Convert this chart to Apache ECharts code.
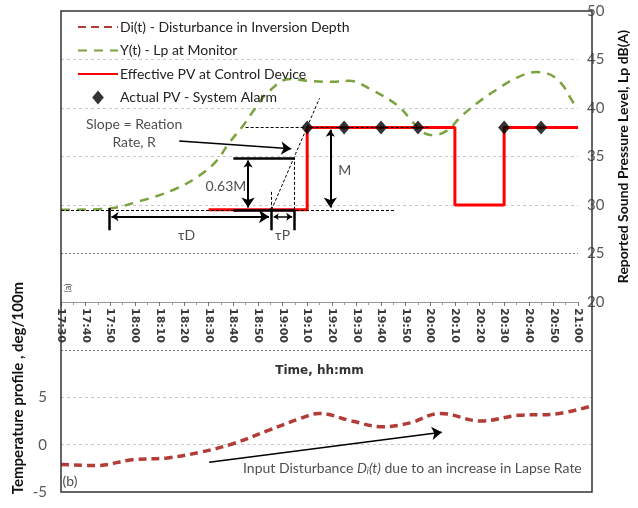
<!DOCTYPE html>
<html><head><meta charset="utf-8">
<script src="https://cdn.jsdelivr.net/npm/echarts@6/dist/echarts.min.js"></script>
<style>html,body{margin:0;padding:0;background:#fff}#c{width:638px;height:508px}</style>
</head><body><div id="c"></div>
<script>
// ---- axes (time in minutes since midnight) ----
const timeMin = 1050, timeMax = 1260, timeStep = 10;   // 17:30 .. 21:00
const lpMin = 20, lpMax = 50, lpStep = 5;
const tempMin = -5, tempMax = 10, tempStep = 5;

// ---- series ----
const disturbanceDi = [[1050,-2.1],[1064,-2.2],[1078,-1.6],[1092,-1.4],[1105,-0.8],[1118,0.1],[1132,1.5],[1145,2.8],[1152,3.3],[1165,2.5],[1177,1.9],[1188,2.3],[1200,3.3],[1216,2.5],[1231,3.1],[1244,3.2],[1260,4.1]];
const lpMonitorY = [[1050,29.5],[1068,29.6],[1082,30.4],[1096,31.6],[1106,33],[1113,34.5],[1118,36.3],[1124,38.2],[1129,40],[1134,41.6],[1143,43],[1150,42.8],[1160,42.7],[1167,42.8],[1176,41.9],[1187,40.2],[1192,38.8],[1197,37.5],[1201,37.2],[1207,37.7],[1212,39],[1219,40.5],[1227,41.9],[1235,43.1],[1243,43.7],[1247,43.6],[1253,42.6],[1258,40.6],[1260,40.1]];
const effectivePV = [[1110,29.5],[1150,29.5],[1150,38],[1210,38],[1210,30],[1230,30],[1230,38],[1260,38]];
const actualPV = [[1150,38],[1165,38],[1180,38],[1195,38],[1230,38],[1245,38]];

// ---- annotations (data coordinates) ----
const annDashed = [[[1125,38],[1200,38]],[[1050,29.5],[1185.5,29.5]],[[1135.5,29.5],[1155,41]],[[1135.5,29.5],[1135.5,31.4]],[[1144.7,29.5],[1144.7,34.85]]];
const annThick = [[[1120,34.85],[1144.7,34.85]],[[1120,29.5],[1144.7,29.5]],[[1069.4,29.7],[1069.4,27.4]],[[1135.6,29.7],[1135.6,27.4]],[[1144.7,29.5],[1144.7,27.4]]];
const annDoubleArrow = [[[1126,34.6],[1126,29.75]],[[1159.4,37.75],[1159.4,29.75]],[[1070.5,28.8],[1134.5,28.8]]];
const annSmallArrow = [[[1136.4,28.8],[1143.9,28.8]]];
const annArrowTop = [[[1098,36.6],[1143.5,35.8]]];
const annArrowBottom = [[[1108.6,-1.85],[1200.6,1.32]]];
const textsTop = [[1079.7,38.35,'Slope = Reation'],[1079.7,36.4,'Rate, R'],[1117,31.9,'0.63M'],[1165.3,33.6,'M'],[1101,26.9,'τD'],[1140,26.9,'τP']];
const textsBottom = [[1050.6,-3.85,'(b)'],[1122,-2.5,'{n|Input Disturbance }{it|D}{sub|i}{it|(t)}{n| due to an increase in Lapse Rate}']];

const FONT = 'Lato';
const fmtTime = v => { const h = Math.floor(v/60), m = v%60; return h + ':' + (m<10?'0':'') + m; };

const chart = echarts.init(document.getElementById('c'));
function linesSeries(data, gi, style, symbol, symbolSize){
  return {type:'lines', coordinateSystem:'cartesian2d', xAxisIndex:gi, yAxisIndex:gi, silent:true, z:6,
    symbol: symbol || ['none','none'], symbolSize: symbolSize || 8,
    lineStyle: Object.assign({color:'#000', opacity:1, curveness:0}, style),
    data: data.map(c => ({coords:c}))};
}
function textSeries(data, gi, align, extra){
  return {type:'scatter', xAxisIndex:gi, yAxisIndex:gi, silent:true, symbolSize:1, z:7,
    itemStyle:{color:'transparent'},
    label:Object.assign({show:true, position:'inside', align:align, verticalAlign:'middle', fontFamily:FONT, fontSize:14, color:'#222',
      formatter:p => p.data[2]}, extra||{}),
    data:data};
}
const noSym = {color:'rgba(0,0,0,0)', opacity:0, borderWidth:0};

chart.setOption({
  animation:false,
  textStyle:{fontFamily:FONT},
  grid:[{left:61, right:46, top:11, height:291},{left:61, right:46, top:350, height:142}],
  legend:{orient:'vertical', left:72, top:15, itemWidth:40, itemHeight:14, itemGap:9.5, symbolKeepAspect:true,
    data:[
      {name:'Di(t) - Disturbance in Inversion Depth', itemStyle:noSym},
      {name:'Y(t) - Lp at Monitor', itemStyle:noSym},
      {name:'Effective PV at Control Device', itemStyle:noSym},
      {name:'Actual PV - System Alarm', icon:'path://M5,0L10,6L5,12L0,6Z'}
    ],
    textStyle:{fontFamily:FONT, fontSize:14, color:'#222', padding:[0,0,0,-3]}},
  xAxis:[
    {type:'value', gridIndex:0, min:timeMin, max:timeMax, interval:timeStep,
     axisLine:{show:true, onZero:false, lineStyle:{color:'#999', width:1}},
     axisTick:{show:true, length:4, lineStyle:{color:'#777'}},
     minorTick:{show:true, splitNumber:2, length:3, lineStyle:{color:'#999'}},
     splitLine:{show:false},
     axisLabel:{rotate:-90, margin:6, fontFamily:'DejaVu Sans', fontWeight:'bold', fontSize:11, color:'#3a3a3a', formatter:fmtTime, showMinLabel:true, showMaxLabel:true},
     name:'Time, hh:mm', nameLocation:'middle', nameGap:63,
     nameTextStyle:{fontFamily:'DejaVu Sans', fontWeight:'bold', fontSize:12, color:'#333'}},
    {type:'value', gridIndex:1, min:timeMin, max:timeMax, interval:timeStep, show:false}
  ],
  yAxis:[
    {type:'value', gridIndex:0, position:'right', min:lpMin, max:lpMax, interval:lpStep,
     axisLine:{show:false}, axisTick:{show:false},
     axisLabel:{margin:9, fontFamily:FONT, fontSize:15, color:'#595959'},
     splitLine:{show:true, lineStyle:{type:[3,3], color:['transparent','transparent','#c8c8c8','#c8c8c8','#c8c8c8','#c8c8c8','transparent']}},
     name:'Reported Sound Pressure Level, Lp dB(A)', nameLocation:'middle', nameRotate:90, nameGap:38,
     nameTextStyle:{fontFamily:FONT, fontWeight:'bold', fontSize:14, color:'#111'}},
    {type:'value', gridIndex:1, position:'left', min:tempMin, max:tempMax, interval:tempStep,
     axisLine:{show:false}, axisTick:{show:false},
     axisLabel:{margin:14, fontFamily:FONT, fontSize:15, color:'#595959', formatter:v => v===10 ? '' : String(v)},
     splitLine:{show:true, lineStyle:{type:[3,3], color:['transparent','#c8c8c8','#c8c8c8','transparent']}}}
  ],
  graphic:[
    {type:'rect', shape:{x:61, y:11, width:531, height:481}, style:{fill:'none', stroke:'#333', lineWidth:1.5}, z:100, silent:true},
    {type:'text', x:18, y:388, rotation:Math.PI/2, style:{text:'Temperature profile , deg/100m', fontFamily:FONT, fontWeight:'bold', fontSize:15, fill:'#111', align:'center', verticalAlign:'middle'}},
    {type:'text', x:68, y:288, rotation:Math.PI/2, style:{text:'(a)', fontFamily:FONT, fontSize:9, fill:'#555', align:'center', verticalAlign:'middle'}}
  ],
  series:[
    {name:'Di(t) - Disturbance in Inversion Depth', type:'line', xAxisIndex:1, yAxisIndex:1, smooth:0.4, showSymbol:false, symbol:'none',
     lineStyle:{color:'#B23C38', width:3.5, type:[8,5]}, itemStyle:{color:'#B23C38'}, data:disturbanceDi, z:3,
     markLine:{silent:true, symbol:'none', label:{show:false}, lineStyle:{color:'#777', type:[2,2], width:1}, data:[{yAxis:10}]}},
    {name:'Y(t) - Lp at Monitor', type:'line', xAxisIndex:0, yAxisIndex:0, smooth:0.4, showSymbol:false, symbol:'none',
     lineStyle:{color:'#7AA23E', width:2.5, type:[9,7]}, itemStyle:{color:'#7AA23E'}, data:lpMonitorY, z:3,
     markLine:{silent:true, symbol:'none', label:{show:false}, lineStyle:{color:'#777', type:[2,2], width:1}, data:[{yAxis:25}]}},
    {name:'Effective PV at Control Device', type:'line', xAxisIndex:0, yAxisIndex:0, showSymbol:false, symbol:'none',
     lineStyle:{color:'#FF0000', width:3}, itemStyle:{color:'#FF0000'}, data:effectivePV, z:4},
    linesSeries(annDashed, 0, {width:1, type:[3,2]}),
    linesSeries(annThick, 0, {width:2.5}),
    linesSeries(annDoubleArrow, 0, {width:2}, ['arrow','arrow'], [7,10]),
    linesSeries(annSmallArrow, 0, {width:1.5}, ['arrow','arrow'], [5,6]),
    linesSeries(annArrowTop, 0, {width:1.5}, ['none','arrow'], [7,10]),
    linesSeries(annArrowBottom, 1, {width:1.5}, ['none','arrow'], [7,10]),
    {name:'Actual PV - System Alarm', type:'scatter', xAxisIndex:0, yAxisIndex:0, symbol:'diamond', symbolSize:[12,14],
     itemStyle:{color:'#000'}, data:actualPV, z:8},
    textSeries(textsTop, 0, 'center'),
    textSeries(textsBottom, 1, 'left', {rich:{n:{fontFamily:FONT, fontSize:14, color:'#222'}, it:{fontFamily:FONT, fontSize:14, fontStyle:'italic', color:'#222'}, sub:{fontFamily:FONT, fontSize:9, fontStyle:'italic', color:'#222', verticalAlign:'bottom', padding:[6,0,0,0]}}})
  ]
});
</script></body></html>
